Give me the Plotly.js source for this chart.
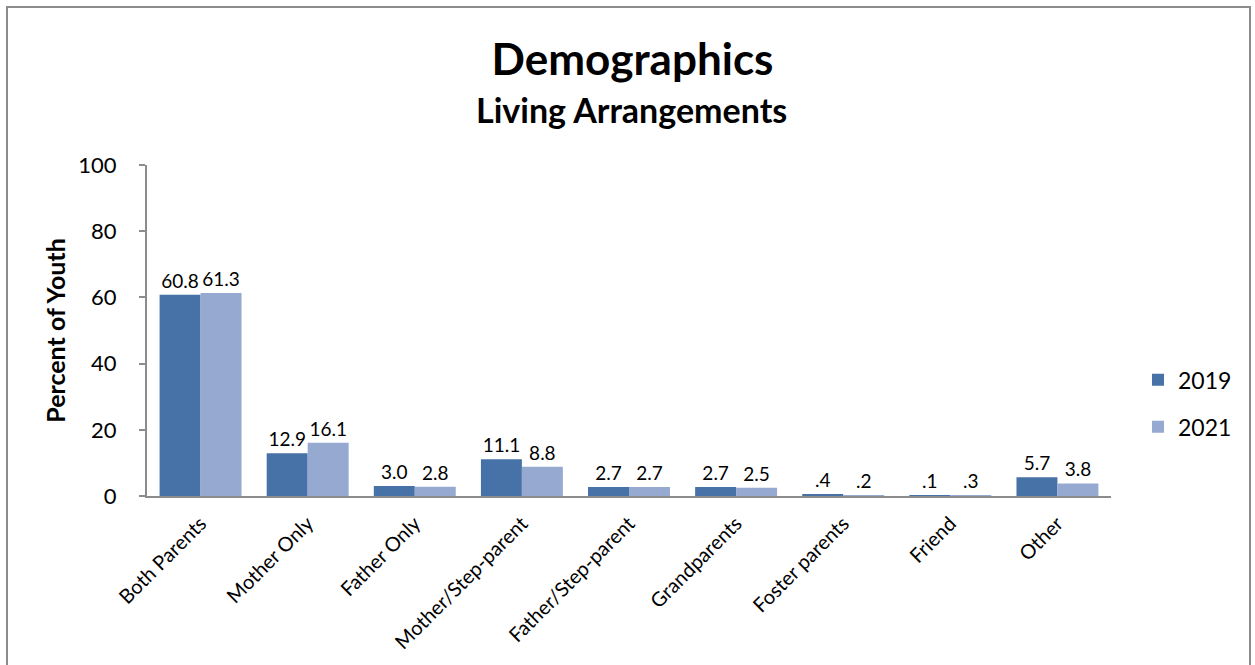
<!DOCTYPE html>
<html>
<head>
<meta charset="utf-8">
<script src="https://cdn.plot.ly/plotly-3.0.1.min.js"></script>
<style>
  html, body { margin: 0; padding: 0; background: #fff; overflow: hidden; }
  #wrap { position: relative; width: 1255px; height: 665px; }
  #chart { width: 1255px; height: 665px; }
  #frame { position: absolute; left: 6px; top: 6px; width: 1245px; height: 700px;
           border: 2px solid #8c8c8c; pointer-events: none; box-sizing: border-box; }
</style>
</head>
<body>
<div id="wrap">
  <div id="chart"></div>
  <div id="frame"></div>
</div>
<script>
const categories = ["Both Parents", "Mother Only", "Father Only", "Mother/Step-parent",
  "Father/Step-parent", "Grandparents", "Foster parents", "Friend", "Other"];
const values2019 = [60.8, 12.9, 3.0, 11.1, 2.7, 2.7, 0.4, 0.1, 5.7];
const values2021 = [61.3, 16.1, 2.8, 8.8, 2.7, 2.5, 0.2, 0.3, 3.8];
const seriesNames = ["2019", "2021"];
const yTicks = [0, 20, 40, 60, 80, 100];

function fmt(v) {
  const s = v.toFixed(1);
  return s.startsWith("0.") ? s.slice(1) : s;
}

const FONT = "Lato, 'Open Sans', sans-serif";

const traces = [
  {
    type: "bar", name: seriesNames[0], x: categories, y: values2019,
    marker: { color: "#4672A8" },
    text: values2019.map(fmt), textposition: "outside", cliponaxis: false,
    textfont: { size: 19, color: "#000", family: FONT },
    legendgroup: "a", hoverinfo: "x+y"
  },
  {
    type: "bar", name: seriesNames[1], x: categories, y: values2021,
    marker: { color: "#95A9D1" },
    text: values2021.map(fmt), textposition: "outside", cliponaxis: false,
    textfont: { size: 19, color: "#000", family: FONT },
    legendgroup: "b", hoverinfo: "x+y"
  }
];

const layout = {
  width: 1255, height: 665,
  margin: { l: 147, r: 144, t: 165, b: 169 },
  paper_bgcolor: "#fff", plot_bgcolor: "#fff",
  font: { family: FONT, color: "#000" },
  barmode: "group", bargap: 0.235, bargroupgap: 0,
  title: {
    text: "<b>Demographics</b>",
    font: { size: 44, family: FONT, color: "#000" },
    x: 0.504, xref: "container", xanchor: "center",
    y: 1 - 60 / 665, yref: "container", yanchor: "middle"
  },
  annotations: [{
    text: "<b>Living Arrangements</b>", showarrow: false,
    xref: "paper", yref: "paper", x: 0.503, y: (496 - 110) / 331,
    xanchor: "center", yanchor: "middle",
    font: { size: 34, family: FONT, color: "#000" }
  }],
  xaxis: {
    type: "category", tickangle: -45,
    tickfont: { size: 20, family: FONT, color: "#000" },
    showline: true, linecolor: "#8c8c8c", linewidth: 2,
    ticks: "", showgrid: false, zeroline: false, ticklabelstandoff: 6
  },
  yaxis: {
    range: [0, 100], tickvals: yTicks, ticktext: yTicks.map(String),
    tickfont: { size: 22, family: FONT, color: "#000" },
    showline: true, linecolor: "#8c8c8c", linewidth: 2,
    ticks: "outside", ticklen: 6, tickcolor: "#8c8c8c", tickwidth: 2,
    ticklabelstandoff: 18,
    showgrid: false, zeroline: false,
    title: { text: "<b>Percent of Youth</b>", font: { size: 25, family: FONT, color: "#000" }, standoff: 6 }
  },
  legend: {
    x: 1.028, xanchor: "left", y: 0.28, yanchor: "middle",
    font: { size: 23, family: FONT, color: "#000" },
    tracegroupgap: 14, traceorder: "grouped", itemwidth: 30,
    bgcolor: "rgba(0,0,0,0)"
  },
  showlegend: true
};

Plotly.newPlot("chart", traces, layout, { displayModeBar: false, responsive: false });
</script>
</body>
</html>
